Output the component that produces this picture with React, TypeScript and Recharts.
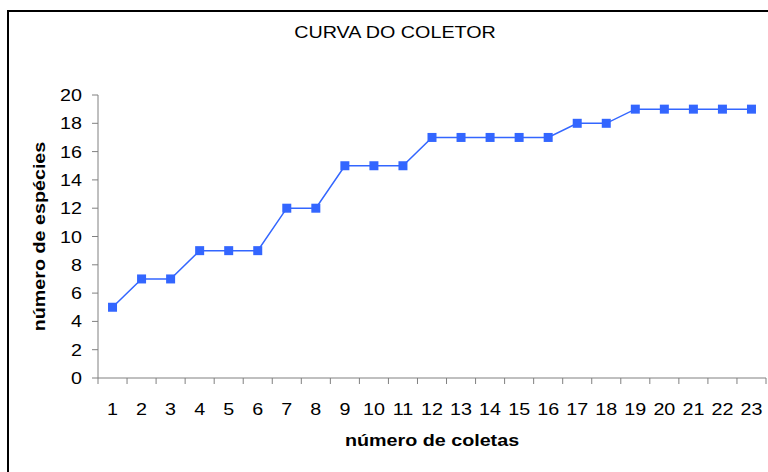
import React from "react";
import { LineChart, Line, XAxis, YAxis } from "recharts";

const coletas = [1, 2, 3, 4, 5, 6, 7, 8, 9, 10, 11, 12, 13, 14, 15, 16, 17, 18, 19, 20, 21, 22, 23];
const especies = [5, 7, 7, 9, 9, 9, 12, 12, 15, 15, 15, 17, 17, 17, 17, 17, 18, 18, 19, 19, 19, 19, 19];
const yTicks = [0, 2, 4, 6, 8, 10, 12, 14, 16, 18, 20];

const TITLE = "CURVA DO COLETOR";
const X_LABEL = "número de coletas";
const Y_LABEL = "número de espécies";

const W = 768;
const H = 472;
const MARGIN = { top: 95, right: 2, bottom: 0, left: 38 };
const Y_AXIS_W = 60;
const PLOT_W = W - MARGIN.left - MARGIN.right - Y_AXIS_W;
const HALF_BAND = PLOT_W / coletas.length / 2;

const BLUE = "#3366ff";
const AXIS = "#808080";
const FONT = "'Liberation Sans', Arial, sans-serif";
// the original text is a little wider than Arial, stretch it horizontally
const STRETCH = 1.16;

// text drawn at (x, y), stretched along its own direction
// eslint-disable-next-line @typescript-eslint/no-explicit-any
function WideText({ x, y, anchor = "middle", bold = false, rotate = 0, children }: any) {
  return (
    <g transform={`translate(${x} ${y}) rotate(${rotate}) scale(${STRETCH} 1)`}>
      <text
        x={0}
        y={0}
        textAnchor={anchor}
        fontSize={17}
        fontWeight={bold ? "bold" : "normal"}
        fontFamily={FONT}
        fill="#000"
      >
        {children}
      </text>
    </g>
  );
}

const data = coletas.map((c, i) => ({ x: c, y: especies[i] }));
// boundaries between categories so tick marks sit between labels
const xTicks = [...coletas.map((c) => c - 0.5), coletas[coletas.length - 1] + 0.5];

// eslint-disable-next-line @typescript-eslint/no-explicit-any
function XTick({ x, y, index }: any) {
  if (index >= coletas.length) return null;
  return (
    <WideText x={x + HALF_BAND} y={y + 29}>
      {coletas[index]}
    </WideText>
  );
}

// eslint-disable-next-line @typescript-eslint/no-explicit-any
function YTick({ x, y, payload }: any) {
  return (
    <WideText x={x - 1} y={y + 6} anchor="end">
      {payload.value}
    </WideText>
  );
}

// eslint-disable-next-line @typescript-eslint/no-explicit-any
function SquareDot({ cx, cy, index }: any) {
  if (cx == null || cy == null) return null;
  return <rect key={index} x={cx - 4.5} y={cy - 4.5} width={9} height={9} fill={BLUE} />;
}

export default function App() {
  return (
    <div style={{ position: "absolute", left: 0, top: 0, width: W, height: H, overflow: "hidden", background: "#fff" }}>
      <div
        style={{
          position: "absolute",
          left: 7,
          top: 10,
          width: W + 20,
          height: H + 20,
          border: "2px solid #000",
          boxSizing: "border-box",
        }}
      />
      <div
        style={{
          position: "absolute",
          left: 0,
          top: 23,
          width: 790,
          textAlign: "center",
          fontFamily: FONT,
          fontSize: 17,
          color: "#000",
          transform: `scaleX(${STRETCH})`,
          transformOrigin: "395px 0",
        }}
      >
        {TITLE}
      </div>
      <div style={{ position: "absolute", left: 0, top: 0 }}>
        <LineChart width={W} height={H} data={data} margin={MARGIN}>
          <XAxis
            dataKey="x"
            type="number"
            domain={[0.5, 23.5]}
            ticks={xTicks}
            interval={0}
            height={94}
            tickSize={6}
            stroke={AXIS}
            tick={<XTick />}
            label={{
              // eslint-disable-next-line @typescript-eslint/no-explicit-any
              content: ({ viewBox }: any) => (
                <WideText x={viewBox.x + viewBox.width / 2} y={viewBox.y + 68} bold>
                  {X_LABEL}
                </WideText>
              ),
            }}
          />
          <YAxis
            domain={[0, 20]}
            ticks={yTicks}
            interval={0}
            width={Y_AXIS_W}
            tickSize={6}
            tickMargin={9}
            stroke={AXIS}
            tick={<YTick />}
            label={{
              // eslint-disable-next-line @typescript-eslint/no-explicit-any
              content: ({ viewBox }: any) => (
                <WideText x={viewBox.x + 7} y={viewBox.y + viewBox.height / 2} rotate={-90} bold>
                  {Y_LABEL}
                </WideText>
              ),
            }}
          />
          <Line
            type="linear"
            dataKey="y"
            stroke={BLUE}
            strokeWidth={1.5}
            dot={<SquareDot />}
            activeDot={false}
            isAnimationActive={false}
          />
        </LineChart>
      </div>
    </div>
  );
}
